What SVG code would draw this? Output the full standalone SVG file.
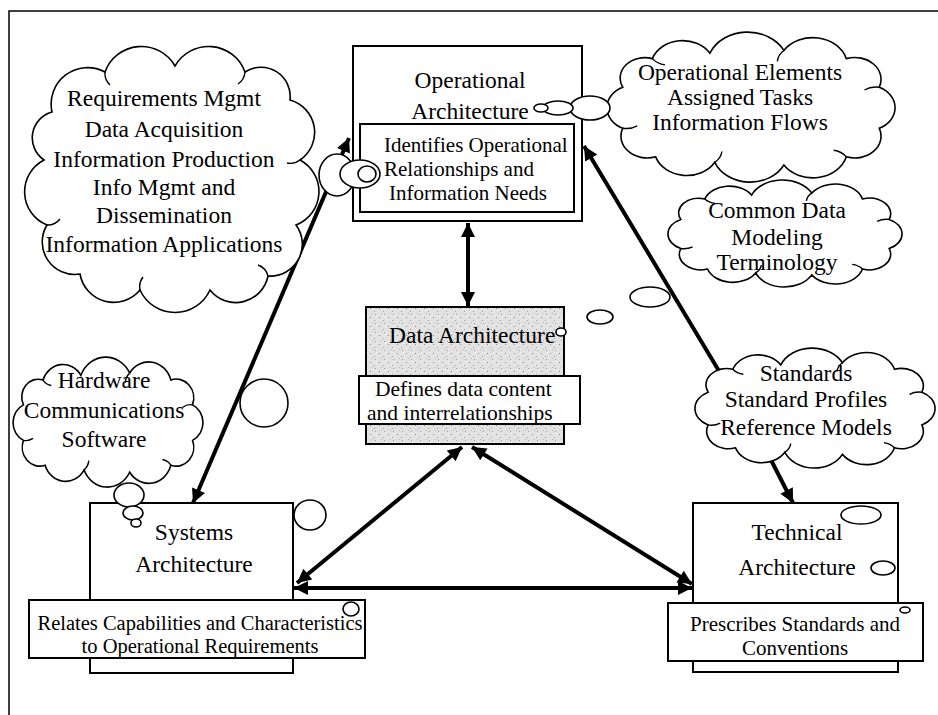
<svg xmlns="http://www.w3.org/2000/svg" xmlns:xlink="http://www.w3.org/1999/xlink" width="938" height="715" viewBox="0 0 938 715">
<style>
.t{font-family:"Liberation Serif","Times New Roman",serif;font-size:23.5px;fill:#000}
.c{text-anchor:middle}
.s{font-size:21px}
.box{fill:#fff;stroke:#000;stroke-width:2}
.cl{fill:#fff;stroke:#000;stroke-width:1.6;vector-effect:non-scaling-stroke}
.cr{fill:none;stroke:#000;stroke-width:1.4;vector-effect:non-scaling-stroke}
.bub{fill:#fff;stroke:#000;stroke-width:1.6}
.con{fill:none;stroke:#000;stroke-width:4}
</style>
<defs>
<marker id="ah" viewBox="0 0 10 10" refX="10" refY="5" markerWidth="18" markerHeight="14" markerUnits="userSpaceOnUse" orient="auto-start-reverse">
<path d="M0,0 L10,5 L0,10 Z" fill="#000"/>
</marker>
<pattern id="speck" width="9" height="9" patternUnits="userSpaceOnUse">
<rect width="9" height="9" fill="#e2e2e2"/>
<rect x="1" y="2" width="1" height="1" fill="#8c8c8c"/>
<rect x="5" y="5" width="1" height="1" fill="#a0a0a0"/>
<rect x="3" y="7" width="1" height="1" fill="#b5b5b5"/>
<rect x="7" y="1" width="1" height="1" fill="#fafafa"/>
<rect x="6" y="8" width="1" height="1" fill="#999"/>
</pattern>
<g id="cloud">
<path class="cl" d="M75,20 A24.8,24.8 0 0 1 120,18 A21.2,21.2 0 0 1 158,24 A16,16 0 0 1 178,45 A16.5,16.5 0 0 1 178,75 A16,16 0 0 1 158,96 A21.2,21.2 0 0 1 120,102 A23.1,23.1 0 0 1 78,100 A19.9,19.9 0 0 1 42,96 A16,16 0 0 1 22,75 A16.5,16.5 0 0 1 22,45 A15,15 0 0 1 40,24 A19.5,19.5 0 0 1 75,20 Z"/>
<path class="cr" d="M120,18 A12,12 0 0 0 116,26 M178,45 A12,12 0 0 0 169,47 M158,96 A12,12 0 0 0 150.3,91.2 M78,100 A12,12 0 0 0 82.3,92.1 M22,75 A12,12 0 0 0 30.8,73.3 M40,24 A12,12 0 0 0 47.7,28.6"/>
</g>
</defs>

<path d="M9,715 L9,11 L938,11" fill="none" stroke="#000" stroke-width="1.5"/>

<g id="connectors">
<line class="con" x1="468" y1="223" x2="468" y2="306" marker-start="url(#ah)" marker-end="url(#ah)"/>
<line class="con" x1="349" y1="138" x2="193" y2="503" marker-start="url(#ah)" marker-end="url(#ah)"/>
<line class="con" x1="722" y1="376" x2="584" y2="146" marker-end="url(#ah)"/>
<line class="con" x1="462" y1="447" x2="297" y2="583" marker-start="url(#ah)" marker-end="url(#ah)"/>
<line class="con" x1="472" y1="447" x2="692" y2="584" marker-start="url(#ah)" marker-end="url(#ah)"/>
<line class="con" x1="294" y1="588" x2="692" y2="588" marker-start="url(#ah)" marker-end="url(#ah)"/>
<line class="con" x1="770" y1="458" x2="793" y2="503" marker-end="url(#ah)"/>
</g>

<g id="cloud-ops-support">
<path class="cl" d="M52,112 A36.5,36.5 0 0 1 105,72 A38.7,38.7 0 0 1 175,66 A38.7,38.7 0 0 1 245,72 A29.2,29.2 0 0 1 290,100 A33.5,33.5 0 0 1 300,160 A35.8,35.8 0 0 1 296,225 A32,32 0 0 1 268,276 A32.8,32.8 0 0 1 210,290 A38.5,38.5 0 0 1 140,290 A34.2,34.2 0 0 1 80,274 A32.5,32.5 0 0 1 47,225 A35.8,35.8 0 0 1 44,160 A26.8,26.8 0 0 1 52,112 Z"/>
<path class="cr" d="M105,72 A16,16 0 0 0 110,85 M245,72 A16,16 0 0 1 238,84 M300,160 A16,16 0 0 1 287,163 M268,276 A16,16 0 0 0 258,265 M140,290 A16,16 0 0 1 143,277 M47,225 A16,16 0 0 0 60,219"/>
<text class="t c" x="164" y="106">Requirements Mgmt</text>
<text class="t c" x="164" y="137">Data Acquisition</text>
<text class="t c" x="164" y="167">Information Production</text>
<text class="t c" x="164" y="195">Info Mgmt and</text>
<text class="t c" x="164" y="223">Dissemination</text>
<text class="t c" x="164" y="252">Information Applications</text>
</g>

<g id="cloud-op-elements">
<use xlink:href="#cloud" href="#cloud" transform="translate(586.6,25.9) scale(1.644,1.364)"/>
<text class="t c" x="740" y="80">Operational Elements</text>
<text class="t c" x="740" y="105">Assigned Tasks</text>
<text class="t c" x="740" y="130">Information Flows</text>
</g>

<g id="cloud-common-data">
<use xlink:href="#cloud" href="#cloud" transform="translate(651.4,175.6) scale(1.336,0.973)"/>
<text class="t c" x="777" y="218">Common Data</text>
<text class="t c" x="777" y="245">Modeling</text>
<text class="t c" x="777" y="270">Terminology</text>
</g>

<g id="cloud-hardware">
<use xlink:href="#cloud" href="#cloud" transform="translate(-0.4,351.7) scale(1.084,1.182)"/>
<text class="t c" x="104" y="388">Hardware</text>
<text class="t c" x="104" y="418">Communications</text>
<text class="t c" x="104" y="447">Software</text>
</g>

<g id="cloud-standards">
<use xlink:href="#cloud" href="#cloud" transform="translate(678,343.1) scale(1.370,1.091)"/>
<text class="t c" x="806" y="381">Standards</text>
<text class="t c" x="806" y="407">Standard Profiles</text>
<text class="t c" x="806" y="435">Reference Models</text>
</g>

<g id="operational">
<rect class="box" x="353" y="46" width="229" height="175"/>
<text class="t c" x="470" y="88">Operational</text>
<text class="t c" x="470" y="119">Architecture</text>
<rect class="box" x="360" y="124" width="214" height="88"/>
<text class="t s" x="384" y="152">Identifies Operational</text>
<text class="t s" x="384" y="176">Relationships and</text>
<text class="t s" x="389" y="200">Information Needs</text>
</g>

<g id="data">
<rect x="366" y="307" width="198" height="137" fill="url(#speck)" stroke="#000" stroke-width="2"/>
<text class="t" x="389" y="343">Data Architecture</text>
<rect class="box" x="359" y="376" width="221" height="48"/>
<text class="t" x="375" y="396" style="font-size:21.5px">Defines data content</text>
<text class="t" x="367" y="420" style="font-size:21.5px">and interrelationships</text>
</g>

<g id="systems">
<rect class="box" x="90" y="503" width="203" height="170"/>
<text class="t c" x="194" y="540">Systems</text>
<text class="t c" x="194" y="572">Architecture</text>
<rect class="box" x="29" y="600" width="336" height="58"/>
<text class="t c" x="200" y="630" style="font-size:20.5px">Relates Capabilities and Characteristics</text>
<text class="t c" x="200" y="653" style="font-size:20.5px">to Operational Requirements</text>
</g>

<g id="technical">
<rect class="box" x="693" y="503" width="205" height="169"/>
<text class="t c" x="797" y="540">Technical</text>
<text class="t c" x="797" y="575">Architecture</text>
<rect class="box" x="668" y="603" width="255" height="58"/>
<text class="t s c" x="795" y="631">Prescribes Standards and</text>
<text class="t s c" x="795" y="655">Conventions</text>
</g>

<g id="bubbles">
<ellipse class="bub" cx="337" cy="175" rx="18" ry="21"/>
<ellipse class="bub" cx="360" cy="174" rx="20" ry="14"/>
<ellipse class="bub" cx="367" cy="174" rx="9" ry="8"/>
<ellipse class="bub" cx="590" cy="108" rx="20" ry="12"/>
<ellipse class="bub" cx="558" cy="108" rx="15" ry="7"/>
<ellipse class="bub" cx="541" cy="108" rx="7" ry="4"/>
<ellipse class="bub" cx="650" cy="297" rx="20" ry="10"/>
<ellipse class="bub" cx="600" cy="317" rx="13" ry="7"/>
<ellipse class="bub" cx="561" cy="332" rx="5" ry="4"/>
<ellipse class="bub" cx="129" cy="495" rx="15" ry="12"/>
<ellipse class="bub" cx="133" cy="513" rx="10" ry="7"/>
<ellipse class="bub" cx="136" cy="523" rx="5" ry="4"/>
<ellipse class="bub" cx="264" cy="403" rx="24" ry="24"/>
<ellipse class="bub" cx="310" cy="515" rx="16" ry="15"/>
<ellipse class="bub" cx="351" cy="609" rx="8" ry="7"/>
<ellipse class="bub" cx="861" cy="515" rx="20" ry="9"/>
<ellipse class="bub" cx="883" cy="568" rx="12" ry="7"/>
<ellipse class="bub" cx="905" cy="610" rx="5" ry="3"/>
</g>
</svg>
